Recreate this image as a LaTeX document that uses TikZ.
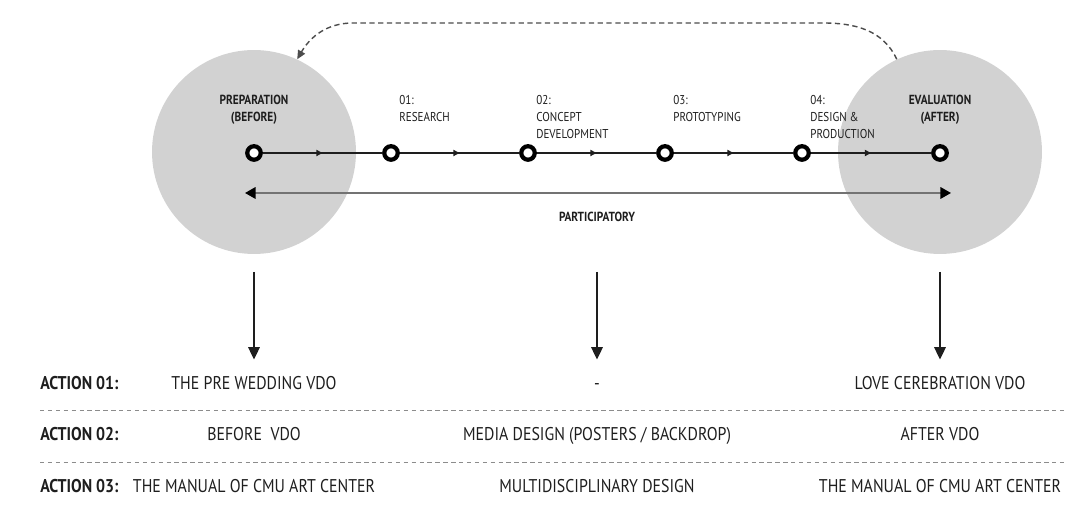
\documentclass[tikz,border=0pt]{standalone}
\usepackage{fontspec}
\setmainfont{PT Sans}[FakeStretch=0.86]
\usetikzlibrary{positioning, arrows.meta, decorations.markings}

\definecolor{phasegray}{RGB}{210,210,210}
\definecolor{inkgray}{RGB}{30,30,30}

\begin{document}
\begin{tikzpicture}[
    x=0.02cm, y=0.02cm,
    phase/.style={circle, fill=phasegray, minimum size=4.08cm, inner sep=0pt},
    ring/.style={circle, draw=black, line width=2.4pt, fill=white, minimum size=0.27cm, inner sep=0pt},
    flow/.style={line width=0.8pt, inkgray, postaction=decorate,
        decoration={markings, mark=at position 0.5 with {\arrow{Triangle[length=3.5pt, width=3.5pt]}}}},
    both/.style={{Triangle[length=6pt, width=6.5pt, color=black]}-{Triangle[length=6pt, width=6.5pt, color=black]}, line width=1.1pt, black!55},
    down/.style={-{Triangle[length=7pt, width=6.5pt]}, line width=1pt, inkgray},
    loop/.style={-{Triangle[length=5pt, width=4.5pt]}, dashed, dash pattern=on 3pt off 2pt, line width=0.8pt, black!70},
    title/.style={font=\fontsize{7.5}{9.6}\selectfont\bfseries, align=center, anchor=north, inner sep=0pt, inkgray},
    stage/.style={font=\fontsize{7.3}{9.6}\selectfont, align=left, anchor=north west, inner sep=0pt, inkgray},
    rowhead/.style={font=\fontsize{10.5}{12}\selectfont\bfseries, anchor=west, inner sep=0pt, text height=7.5pt, text depth=2pt, inkgray},
    cell/.style={font=\fontsize{10.5}{12}\selectfont, inner sep=1pt, text height=7.5pt, text depth=2pt, inkgray},
    rule/.style={dash pattern=on 2.5pt off 2pt, line width=0.5pt, black!45}
]
\useasboundingbox (0,0) rectangle (1065,509);

% before / after phases
\node[phase] (prep) at (254,357) {};
\node[phase] (eval) at (940,357) {};

% process steps
\foreach \i/\x in {0/254, 1/391, 2/528, 3/665, 4/802, 5/940}
    \node[ring] (s\i) at (\x,356) {};

\draw[flow] (s0) -- (s1);
\draw[flow] (s1) -- (s2);
\draw[flow] (s2) -- (s3);
\draw[flow] (s3) -- (s4);
\draw[flow] (s4) -- (s5);

% step labels
\node[title] (prepl) at (254,414) {PREPARATION\\(BEFORE)};
\node[title] (evall) at (940,414) {EVALUATION\\(AFTER)};
\node[stage] (st1) at (399,414) {01:\\RESEARCH};
\node[stage] (st2) at (536,414) {02:\\CONCEPT\\DEVELOPMENT};
\node[stage] (st3) at (673,414) {03:\\PROTOTYPING};
\node[stage] (st4) at (810,414) {04:\\DESIGN \&\\PRODUCTION};

% participation runs both ways
\coordinate (pl) at (245,316);
\coordinate (pr) at (951,316);
\draw[both] (pl) -- (pr);
\node[title, anchor=center] (part) at (597,292) {PARTICIPATORY};

% feedback from evaluation back to preparation
\coordinate (lt) at (353,486);
\coordinate (rt) at (823,486);
\draw[loop] (eval.115) to[out=115, in=0] (rt) -- (lt) to[out=180, in=60] (prep.65);

% action table
\node[rowhead] (a1) at (40,124) {ACTION 01:};
\node[rowhead] (a2) at (40,73) {ACTION 02:};
\node[rowhead] (a3) at (40,21) {ACTION 03:};

\node[cell] (c11) at (254,124) {THE PRE WEDDING VDO};
\node[cell] (c12) at (597,124) {-};
\node[cell] (c13) at (940,124) {LOVE CEREBRATION VDO};
\node[cell] (c21) at (254,73) {BEFORE\ \ VDO};
\node[cell] (c22) at (597,73) {MEDIA DESIGN (POSTERS / BACKDROP)};
\node[cell] (c23) at (940,73) {AFTER VDO};
\node[cell] (c31) at (254,21) {THE MANUAL OF CMU ART CENTER};
\node[cell] (c32) at (597,21) {MULTIDISCIPLINARY DESIGN};
\node[cell] (c33) at (940,21) {THE MANUAL OF CMU ART CENTER};

\draw[rule] (40,99) -- (1065,99);
\draw[rule] (40,47) -- (1065,47);

% phases feed the actions
\coordinate (pf) at (597,237);
\draw[down, shorten <=0.36cm, shorten >=0.3cm] (prep) ++(0,-102) -- (c11);
\draw[down, shorten >=0.3cm] (pf) -- (c12);
\draw[down, shorten <=0.36cm, shorten >=0.3cm] (eval) ++(0,-102) -- (c13);
\end{tikzpicture}
\end{document}
